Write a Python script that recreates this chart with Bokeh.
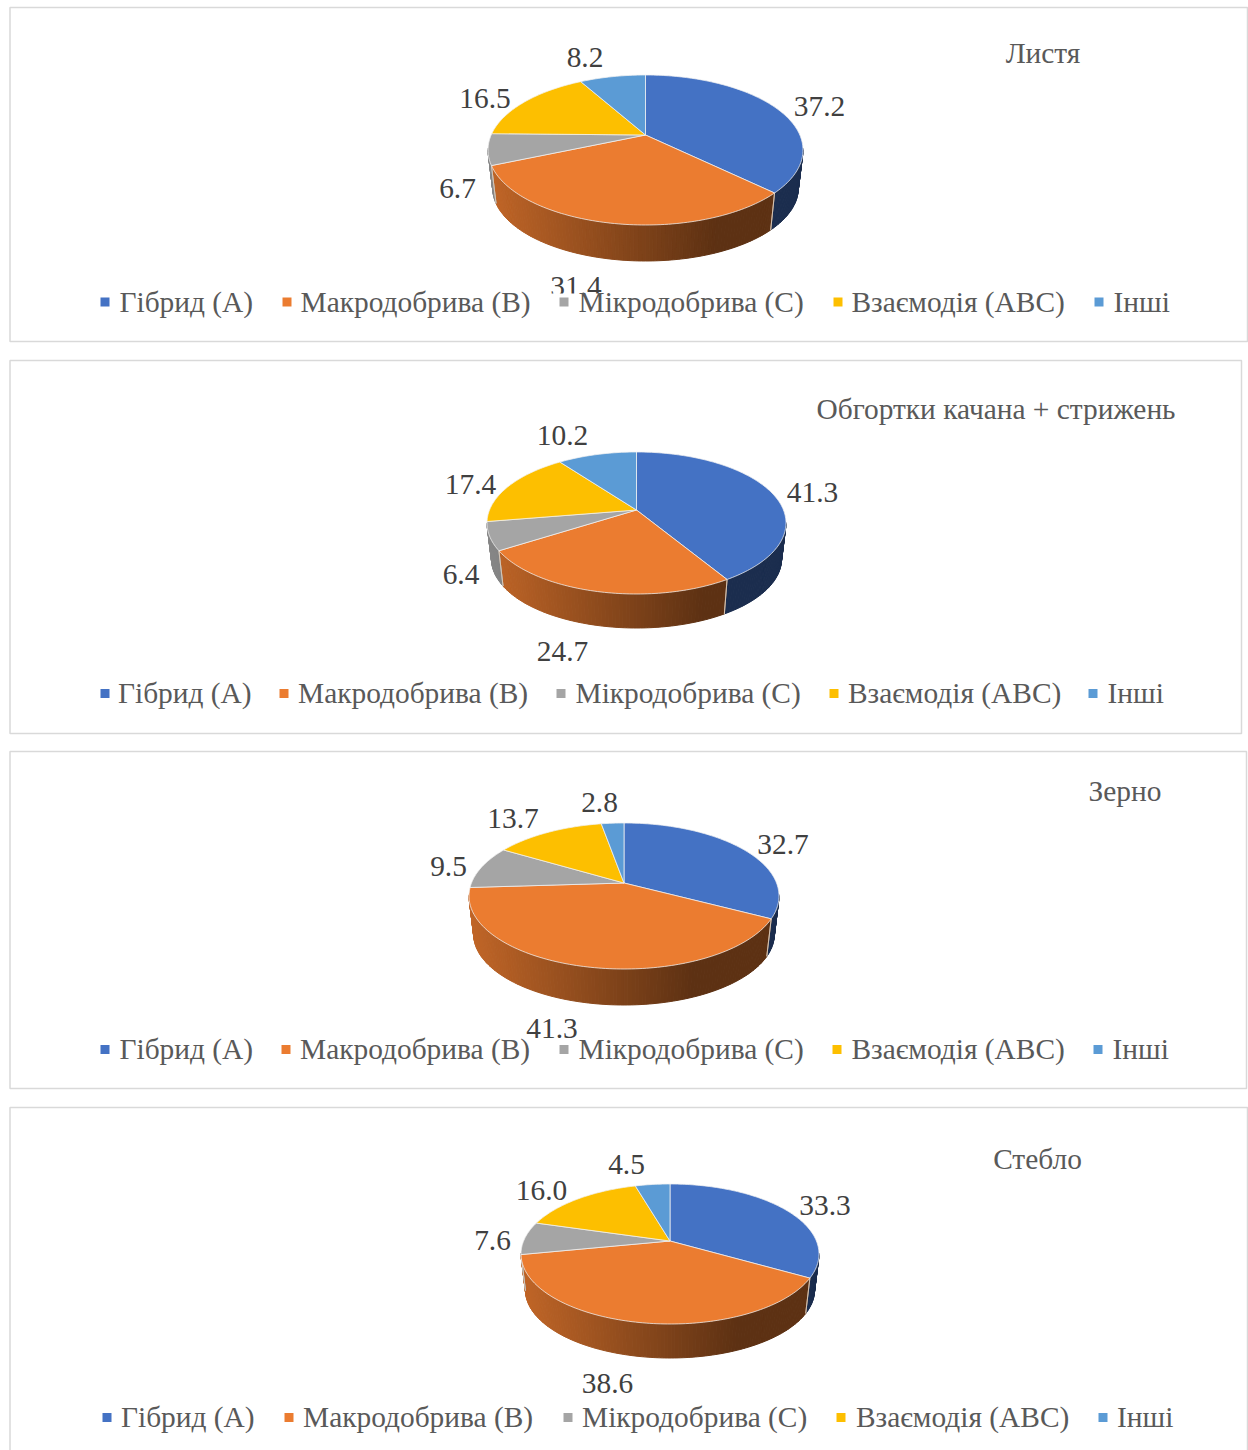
import math
from bokeh.plotting import figure
from bokeh.models import Range1d, ColumnDataSource
from bokeh.core.properties import value
from bokeh.embed import file_html
from bokeh.resources import INLINE

categories = ["Гібрид (А)", "Макродобрива (В)", "Мікродобрива (С)", "Взаємодія (АВС)", "Інші"]
titles = ["Листя", "Обгортки качана + стрижень", "Зерно", "Стебло"]
leaf_values = [37.2, 31.4, 6.7, 16.5, 8.2]
husk_values = [41.3, 24.7, 6.4, 17.4, 10.2]
grain_values = [32.7, 41.3, 9.5, 13.7, 2.8]
stem_values = [33.3, 38.6, 7.6, 16.0, 4.5]
colors = ["#4472C4", "#EB7C30", "#A5A5A5", "#FDBF00", "#5B9BD5"]

FONT = value("Liberation Serif")
LABEL_SIZE = "29.4px"
LEGEND_SIZE = "29.4px"

# layout of every panel, in page pixels
PANELS = [
    dict(values=leaf_values, box=(9.5, 7, 1247, 341), apex=(645, 134.5), top=74.5, bottom=224.5, left=487.5, right=802.5,
         floor=260.5, title=(1042.5, 52),
         labels=[(819, 106), (575.5, 285.5), (457, 188), (484.5, 97.5), (584.5, 56.5)], legend_y=301,
         markers=[104.5, 286.5, 563.5, 837.5, 1098.5], texts=[119, 300, 578, 851, 1113], cover=(530, 1000, 293, 320)),
    dict(values=husk_values, box=(9.5, 360, 1241, 733), apex=(636, 509.5), top=451.5, bottom=593.5, left=486.5, right=785.5,
         floor=627.5, title=(995.5, 408),
         labels=[(812, 492), (562, 651), (460.5, 574), (470, 483.5), (562, 435)], legend_y=692.5,
         markers=[104.5, 283.5, 560.5, 833.5, 1092.5], texts=[117.5, 297.5, 575, 847.5, 1107], cover=None),
    dict(values=grain_values, box=(9.5, 751, 1246, 1088), apex=(623.5, 882.5), top=822.5, bottom=968.5, left=468.5, right=778.5,
         floor=1004.5, title=(1124.5, 790),
         labels=[(782.5, 844), (551.5, 1028), (448, 866), (512.5, 818), (599, 802)], legend_y=1048.5,
         markers=[104.5, 285.5, 563.5, 836.5, 1097.5], texts=[119, 299.5, 578, 851, 1112], cover=None),
    dict(values=stem_values, box=(9.5, 1107, 1247, 1460), apex=(669.5, 1240.5), top=1183.5, bottom=1323.5, left=520.5, right=818.5,
         floor=1357.5, title=(1037, 1158),
         labels=[(824.5, 1205), (607, 1383), (492, 1240), (541, 1190), (626, 1164)], legend_y=1416.5,
         markers=[106.5, 288.5, 567.5, 840.5, 1102.5], texts=[120.5, 302.5, 581.5, 855.5, 1116.5], cover=None),
]

p = figure(width=1248, height=1450, x_range=Range1d(0, 1248), y_range=Range1d(1450, 0),
           output_backend="svg", toolbar_location=None, min_border=0, outline_line_color=None)
p.axis.visible = False
p.grid.visible = False


def shade(hex_color, f):
    r, g, b = (int(hex_color[i:i + 2], 16) for i in (1, 3, 5))
    return "#%02x%02x%02x" % (int(r * f), int(g * f), int(b * f))


def projector(pn):
    cx, cy = pn["apex"]
    up, down = cy - pn["top"], pn["bottom"] - cy
    k = (down - up) / (down + up)
    a = up * (1 + k)
    half = (pn["right"] - pn["left"]) / 2
    b = half * math.sqrt(1 - k * k)

    def rim(theta):
        u, v = math.sin(theta), math.cos(theta)
        d = 1 + k * v
        return cx + b * u / d, cy - a * v / d
    return rim, k


SCALE = 0.97
for pn in PANELS:
    x0, y0, x1, y1 = pn["box"]
    p.quad(left=[x0], right=[x1], top=[y0], bottom=[y1], fill_color="white",
           line_color="#D9D9D9", line_width=1.5)

    rim, k = projector(pn)
    cx, cy = pn["apex"]
    depth = pn["floor"] - (cy + (pn["bottom"] - cy) * SCALE)

    def floor_pt(pt):
        return cx + (pt[0] - cx) * SCALE, cy + (pt[1] - cy) * SCALE + depth

    total = sum(pn["values"])
    start = 0.0
    wall_xs, wall_ys, wall_c = [], [], []
    top_xs, top_ys, top_c = [], [], []
    seam_xs, seam_ys = [], []
    width = pn["right"] - pn["left"]
    for val, col in zip(pn["values"], colors):
        end = start + val / total * 2 * math.pi
        n = max(3, int((end - start) / 0.02))
        thetas = [start + (end - start) * i / n for i in range(n + 1)]
        pts = [rim(t) for t in thetas]
        for i in range(n):
            if math.cos(thetas[i]) > -k and math.cos(thetas[i + 1]) > -k:
                continue
            a0, a1 = pts[i], pts[i + 1]
            b0, b1 = floor_pt(a0), floor_pt(a1)
            frac = ((a0[0] + a1[0]) / 2 - pn["left"]) / width
            f = 0.82 - 0.42 * min(frac / 0.72, 1)
            wall_xs.append([a0[0], a1[0], b1[0], b0[0]])
            wall_ys.append([a0[1], a1[1], b1[1], b0[1]])
            wall_c.append(shade(col, f))
        for t, pt in ((thetas[0], pts[0]), (thetas[-1], pts[-1])):
            if math.cos(t) < -k:
                b = floor_pt(pt)
                seam_xs.append([pt[0], b[0]])
                seam_ys.append([pt[1], b[1]])
        top_xs.append([cx] + [q[0] for q in pts])
        top_ys.append([cy] + [q[1] for q in pts])
        top_c.append(col)
        start = end

    p.patches("xs", "ys", source=ColumnDataSource(dict(xs=wall_xs, ys=wall_ys, c=wall_c)),
              fill_color="c", line_color="c", line_width=1)
    if seam_xs:
        p.multi_line(seam_xs, seam_ys, line_color="#D8C8B8", line_alpha=0.8, line_width=1)
    p.patches("xs", "ys", source=ColumnDataSource(dict(xs=top_xs, ys=top_ys, c=top_c)),
              fill_color="c", line_color="#F2F2F2", line_alpha=0.75, line_width=1)

    # data labels, then the legend's own background over them
    p.text(x=[q[0] for q in pn["labels"]], y=[q[1] for q in pn["labels"]],
           text=["%.1f" % v for v in pn["values"]], text_font=FONT, text_font_size=value(LABEL_SIZE),
           text_color="#404040", text_align="center", text_baseline="middle")
    if pn["cover"]:
        l, r, t, b = pn["cover"]
        p.quad(left=[l], right=[r], top=[t], bottom=[b], fill_color="white", line_color=None)

    p.text(x=[pn["title"][0]], y=[pn["title"][1]], text=[titles[PANELS.index(pn)]], text_font=FONT,
           text_font_size=value(LEGEND_SIZE), text_color="#595959", text_align="center", text_baseline="middle")
    ly = pn["legend_y"]
    p.scatter(x=pn["markers"], y=[ly + 0.5] * 5, marker="square", size=9, fill_color=colors, line_color=None)
    p.text(x=pn["texts"], y=[ly] * 5, text=categories, text_font=FONT, text_font_size=value(LEGEND_SIZE),
           text_color="#595959", text_align="left", text_baseline="middle")

open("out.html", "w").write(file_html(p, INLINE))
